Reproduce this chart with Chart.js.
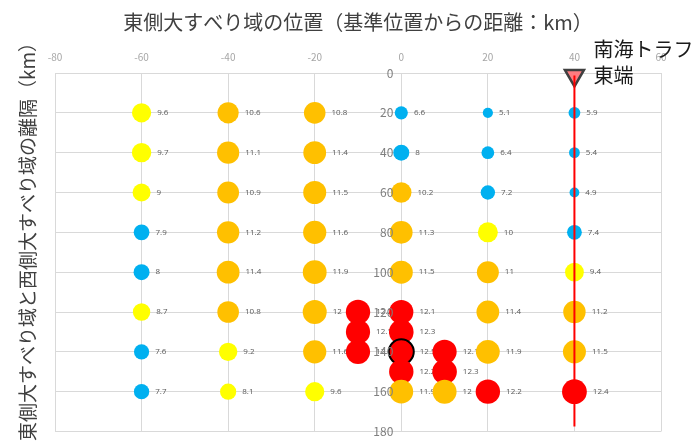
<!DOCTYPE html>
<html lang="ja">
<head>
<meta charset="utf-8"/>
<title>東側大すべり域の位置</title>
<script src="https://cdn.jsdelivr.net/npm/chart.js@4.4.0/dist/chart.umd.min.js"></script>
<style>
  html, body { margin: 0; padding: 0; background: #ffffff; }
  .wrap { width: 697px; height: 446px; }
</style>
</head>
<body>
<div class="wrap"><canvas id="myChart"></canvas></div>
<script>
// east large-slip position (km) for each column of bubbles
const columnX = [-60, -40, -20, -10, 0, 10, 20, 40];

// separation between east and west large-slip areas (km)
const gapY = [20, 40, 60, 80, 100, 120, 140, 160];
const gapYm10 = [120, 130, 140];
const gapY0 = [20, 40, 60, 80, 100, 120, 130, 140, 150, 160];
const gapY10 = [140, 150, 160];

// bubble values (label text, also bubble size)
const valM60 = [9.6, 9.7, 9, 7.9, 8, 8.7, 7.6, 7.7];
const valM40 = [10.6, 11.1, 10.9, 11.2, 11.4, 10.8, 9.2, 8.1];
const valM20 = [10.8, 11.4, 11.5, 11.6, 11.9, 12, 11.6, 9.6];
const valM10 = [12.2, 12.1, 12.1];
const val0 = [6.6, 8, 10.2, 11.3, 11.5, 12.1, 12.3, 12.5, 12.2, 11.9];
const val10 = [12.1, 12.3, 12];
const val20 = [5.1, 6.4, 7.2, 10, 11, 11.4, 11.9, 12.2];
const val40 = [5.9, 5.4, 4.9, 7.4, 9.4, 11.2, 11.5, 12.4];

const columnY = [gapY, gapY, gapY, gapYm10, gapY0, gapY10, gapY, gapY];
const columnVals = [valM60, valM40, valM20, valM10, val0, val10, val20, val40];

// highlighted case
const markX = 0, markY = 140;

// Nankai trough east end
const trenchX = 40;
const trenchTopY = 1.2;
const trenchBottomY = 177.5;

function colourFor(v) {
  if (v <= 8) return '#00B0F0';
  if (v <= 10) return '#FFFF00';
  if (v <= 12) return '#FFC000';
  return '#FF0000';
}

const bubbleSets = columnX.map((cx, i) => ({
  type: 'bubble',
  values: columnVals[i],
  order: columnX.length - i + 2,
  data: columnY[i].map((y, j) => ({ x: cx, y: y, r: columnVals[i][j] })),
  backgroundColor: ctx => colourFor(columnVals[i][ctx.dataIndex]),
  borderColor: ctx => (ctx.raw && ctx.raw.x === markX && ctx.raw.y === markY) ? '#000000' : 'rgba(0,0,0,0)',
  borderWidth: ctx => (ctx.raw && ctx.raw.x === markX && ctx.raw.y === markY) ? 2 : 0
}));

const valueLabels = {
  id: 'valueLabels',
  afterDatasetDraw(chart, args) {
    const ds = chart.data.datasets[args.index];
    if (!ds.values) return;
    const ctx = chart.ctx;
    ctx.save();
    ctx.font = '8px "Open Sans", sans-serif';
    ctx.fillStyle = '#595959';
    ctx.textAlign = 'left';
    ctx.textBaseline = 'middle';
    args.meta.data.forEach((pt, i) => {
      ctx.fillText(String(ds.values[i]), pt.x + pt.options.radius + 6, pt.y);
    });
    ctx.restore();
  }
};

// y tick labels sit at the x = 0 line, right aligned, above the bubbles
const gapTicks = {
  id: 'gapTicks',
  afterDatasetsDraw(chart) {
    const ctx = chart.ctx;
    const xs = chart.scales.x, ys = chart.scales.y;
    const x0 = xs.getPixelForValue(0) - 8;
    ctx.save();
    ctx.font = '12px "Noto Sans CJK JP", sans-serif';
    ctx.fillStyle = '#7f7f7f';
    ctx.textAlign = 'right';
    ctx.textBaseline = 'middle';
    ys.ticks.forEach((t, i) => {
      ctx.fillText(String(t.value), x0, ys.getPixelForTick(i));
    });
    ctx.restore();
  }
};

const extraText = {
  id: 'extraText',
  afterDraw(chart) {
    const ctx = chart.ctx;
    const xs = chart.scales.x;
    ctx.save();
    // y axis title
    ctx.translate(28, 237);
    ctx.rotate(-Math.PI / 2);
    ctx.font = '19px "Noto Sans CJK JP"';
    ctx.fillStyle = '#404040';
    ctx.textAlign = 'center';
    ctx.textBaseline = 'middle';
    ctx.fillText('東側大すべり域と西側大すべり域の離隔（km）', 0, 0);
    ctx.restore();

    // trough label
    ctx.save();
    ctx.font = '20px "Noto Sans CJK JP"';
    ctx.fillStyle = '#1a1a1a';
    ctx.textAlign = 'left';
    ctx.textBaseline = 'middle';
    const tx = xs.getPixelForValue(trenchX) + 19;
    ctx.fillText('南海トラフ', tx, 49);
    ctx.fillText('東端', tx, 75);
    ctx.restore();
  }
};

Chart.defaults.font.family = '"Noto Sans CJK JP", "Open Sans", sans-serif';

new Chart(document.getElementById('myChart'), {
  type: 'bubble',
  data: {
    datasets: [
      {
        type: 'line',
        order: 0,
        data: [{ x: trenchX, y: trenchTopY }, { x: trenchX, y: trenchBottomY }],
        borderColor: '#FF0000',
        borderWidth: 2,
        pointRadius: 0,
        clip: false
      },
      {
        type: 'scatter',
        order: 1,
        data: [{ x: trenchX, y: trenchTopY }],
        pointStyle: 'triangle',
        rotation: 180,
        pointRadius: 11,
        backgroundColor: '#FF7C80',
        borderColor: '#404040',
        borderWidth: 2.5,
        clip: false
      },
      ...bubbleSets
    ]
  },
  options: {
    responsive: true,
    maintainAspectRatio: false,
    animation: false,
    events: [],
    layout: { padding: { left: 55, right: 36, bottom: 14, top: 0 } },
    plugins: {
      legend: { display: false },
      tooltip: { enabled: false },
      title: {
        display: true,
        text: '東側大すべり域の位置（基準位置からの距離：km）',
        color: '#404040',
        font: { size: 20, weight: 'normal' },
        padding: { top: 10, bottom: 7 }
      }
    },
    scales: {
      x: {
        type: 'linear',
        position: 'top',
        min: -80,
        max: 60,
        ticks: { stepSize: 20, color: '#a6a6a6', font: { size: 10 }, padding: 10 },
        grid: { color: '#d9d9d9', drawTicks: false },
        border: { color: '#d9d9d9' }
      },
      y: {
        type: 'linear',
        position: { x: 0 },
        reverse: true,
        min: 0,
        max: 180,
        ticks: { stepSize: 20, display: false },
        grid: { color: '#d9d9d9', drawTicks: false },
        border: { color: '#d9d9d9' }
      }
    }
  },
  plugins: [valueLabels, gapTicks, extraText]
});
</script>
</body>
</html>
